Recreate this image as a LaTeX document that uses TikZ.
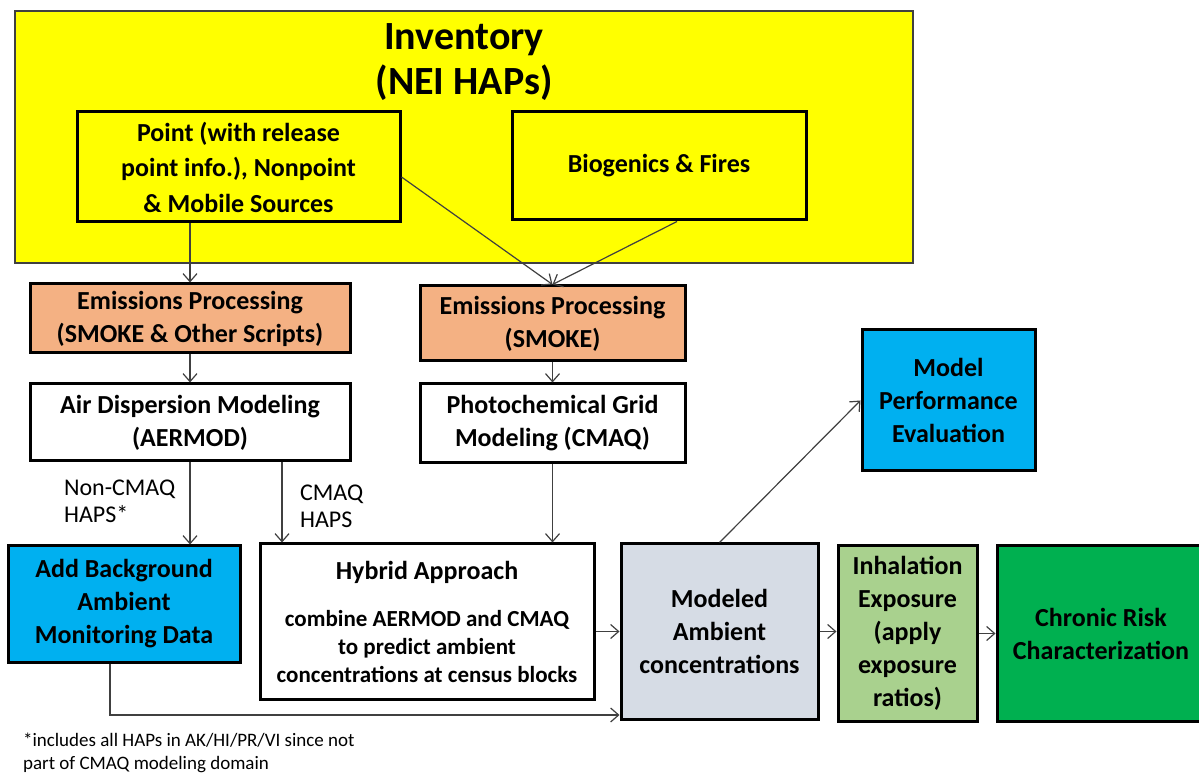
\documentclass[tikz,border=0pt]{standalone}
\usepackage{fontspec}
\setmainfont{Carlito}
\usepackage{xcolor}
\definecolor{flow-yellow}{HTML}{FFFF00}
\definecolor{flow-salmon}{HTML}{F4B183}
\definecolor{flow-blue}{HTML}{00B0F0}
\definecolor{flow-grey}{HTML}{D6DCE5}
\definecolor{flow-lightgreen}{HTML}{A9D18E}
\definecolor{flow-green}{HTML}{00B050}
\definecolor{flow-line}{HTML}{404040}
\usepackage{tikz}
\usetikzlibrary{arrows.meta}

\newcommand{\smallline}{\fontsize{11.5}{14}\selectfont}

\tikzset{
    box/.style={draw=black, line width=1.5pt, align=center, inner sep=1pt, font=\fontsize{13}{16.5}\selectfont\bfseries},
    flow/.style={-{Straight Barb[length=4pt, width=7pt]}, draw=flow-line, line width=0.6pt},
    tag/.style={anchor=west, align=left, font=\fontsize{12}{13.5}\selectfont}
}

\begin{document}
\begin{tikzpicture}[x=0.5pt, y=-0.5pt]

    \useasboundingbox (0, 0) rectangle (1199, 774);
    \fill[white] (0, 0) rectangle (1199, 774);

    % Inventory
    \node[box, fill=flow-yellow, draw=flow-line, line width=1pt, minimum width=449pt, minimum height=126pt] (inventory) at (464, 137) {};
    \node[align=center, font=\fontsize{20}{22.5}\selectfont\bfseries] (invtitle) at (464, 62) {Inventory\\(NEI HAPs)};
    \node[box, fill=flow-yellow, font=\fontsize{13}{17.75}\selectfont\bfseries, minimum width=161.5pt, minimum height=55pt] (point) at (238.5, 167) {Point (with release\\point info.), Nonpoint\\\& Mobile Sources};
    \node[box, fill=flow-yellow, minimum width=147pt, minimum height=54pt] (biogen) at (659, 166) {Biogenics \& Fires};

    % Emissions processing
    \node[box, fill=flow-salmon, minimum width=160pt, minimum height=34.5pt] (emisA) at (190, 318.5) {Emissions Processing\\(SMOKE \& Other Scripts)};
    \node[box, fill=flow-salmon, minimum width=132.5pt, minimum height=37.5pt] (emisB) at (552.5, 323.5) {Emissions Processing\\(SMOKE)};

    % Modeling
    \node[box, fill=white, minimum width=160pt, minimum height=38.5pt] (aermod) at (190, 422.5) {Air Dispersion Modeling\\(AERMOD)};
    \node[box, fill=white, minimum width=132.5pt, minimum height=39.5pt] (cmaq) at (552.5, 423.5) {Photochemical Grid\\Modeling (CMAQ)};
    \node[box, fill=flow-blue, minimum width=86.5pt, minimum height=70.5pt] (mpe) at (948.5, 400.5) {Model\\Performance\\Evaluation};

    % Labels
    \node[tag] (noncmaq) at (57, 501) {Non-CMAQ\\HAPS*};
    \node[tag] (cmaqhaps) at (293, 506) {CMAQ\\HAPS};

    % Lower row
    \node[box, fill=flow-blue, minimum width=116pt, minimum height=58pt] (background) at (124, 604) {Add Background\\Ambient\\Monitoring Data};
    \node[box, fill=white, font=\fontsize{13}{14}\selectfont\bfseries, minimum width=167pt, minimum height=77.5pt] (hybrid) at (427, 621.5) {Hybrid Approach\\[9.5pt]\smallline combine AERMOD and CMAQ\\\smallline to predict ambient\\\smallline concentrations at census blocks};
    \node[box, fill=flow-grey, minimum width=98.5pt, minimum height=87.5pt] (modeled) at (719.5, 631.5) {Modeled\\Ambient\\concentrations};
    \node[box, fill=flow-lightgreen, minimum width=69.5pt, minimum height=87.5pt] (inhal) at (907.5, 633.5) {Inhalation\\Exposure\\(apply\\exposure\\ratios)};
    \node[box, fill=flow-green, minimum width=104pt, minimum height=87.5pt] (chronic) at (1101, 633.5) {Chronic Risk\\Characterization};

    % Footnote
    \node[anchor=north west, align=left, font=\fontsize{9.5}{11.5}\selectfont] (note) at (16, 726) {*includes all HAPs in AK/HI/PR/VI since not\\part of CMAQ modeling domain};

    % Arrows
    \draw[flow] (point.south -| emisA.north) -- (emisA.north);
    \draw[flow] ([yshift=-5pt]point.east) -- (emisB.north);
    \draw[flow] ([xshift=9pt]biogen.south) -- (emisB.north);
    \draw[flow] (emisA.south) -- (aermod.north);
    \draw[flow] (emisB.south) -- (cmaq.north);
    \draw[flow] (aermod.south) -- (aermod.south |- background.north);
    \coordinate (cmaqsplit) at ([xshift=46pt]aermod.south);
    \draw[flow] (cmaqsplit) -- (cmaqsplit |- hybrid.north);
    \draw[flow] (cmaq.south) -- (cmaq.south |- hybrid.north);
    \draw[flow] (hybrid.east |- modeled.west) -- (modeled.west);
    \coordinate (bgturn) at (110, 715);
    \draw[flow] (background.south -| bgturn) -- (bgturn) -- (bgturn -| modeled.west);
    \draw[flow] (modeled.north) -- (mpe.west);
    \draw[flow] (modeled.east) -- (modeled.east -| inhal.west);
    \draw[flow] (inhal.east) -- (inhal.east -| chronic.west);

\end{tikzpicture}
\end{document}
